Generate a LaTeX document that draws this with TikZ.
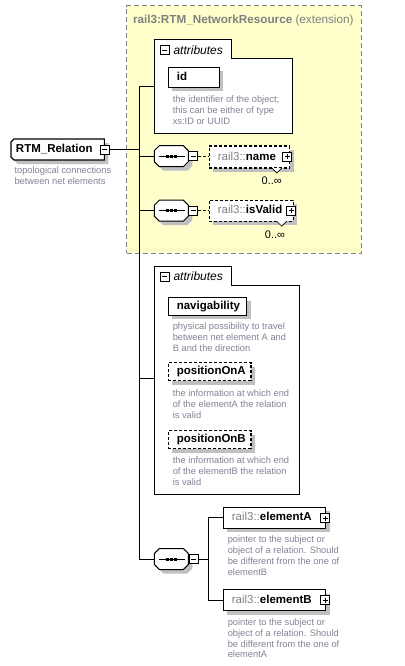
\documentclass[tikz,border=0pt]{standalone}
\usepackage{fontspec}
\setmainfont{Liberation Sans}
\usetikzlibrary{shadows}
\definecolor{ybg}{RGB}{255,255,204}
\definecolor{yborder}{RGB}{128,128,128}
\definecolor{shadowc}{RGB}{192,192,192}
\definecolor{desc}{RGB}{130,130,150}
\definecolor{pref}{RGB}{128,128,128}
\newcommand\octpath[3]{%
 \path[#3] ([xshift=#2]#1.north west) -- ([xshift=-#2]#1.north east) -- ([yshift=-#2]#1.north east) -- ([yshift=#2]#1.south east) -- ([xshift=-#2]#1.south east) -- ([xshift=#2]#1.south west) -- ([yshift=#2]#1.south west) -- ([yshift=-#2]#1.north west) -- cycle;}
\newcommand\seqshape[1]{%
 \octpath{#1}{5pt}{fill=shadowc, transform canvas={shift={(4pt,-4pt)}}}%
 \octpath{#1}{5pt}{draw=black, fill=white}%
 \draw ([xshift=4.5pt]#1.west) -- ([xshift=-3.5pt]#1.east);%
 \foreach \d in {-4,0,4} {\fill ([xshift=\d pt]#1.center) ++(-1.5,-1.5) rectangle ++(3,3);}%
}
\newcommand\relpath[2]{%
 \path[#2] ([xshift=3pt]#1.north west) -- (#1.north east) -- (#1.south east) -- ([xshift=3pt]#1.south west) -- ([yshift=3pt]#1.south west) -- ([yshift=-3pt]#1.north west) -- cycle;}
\begin{document}
\begin{tikzpicture}[x=1pt,y=-1pt, line width=1pt,
  every node/.style={inner sep=0pt, outer sep=0pt},
  shad/.style={drop shadow={shadow xshift=4pt, shadow yshift=-4pt, fill=shadowc, opacity=1}},
  ebox/.style={draw=black, fill=white, line width=1.1pt, shad, inner xsep=8.5pt, align=left, anchor=west,
    text height=8.4pt, text depth=2.3pt, font=\fontsize{11.5}{13}\selectfont\bfseries},
  optbox/.style={ebox, dash pattern=on 3pt off 2pt},
  descr/.style={anchor=north west, align=left, text=desc, font=\fontsize{9.3}{10.8}\selectfont},
  pmbox/.style={draw=black, fill=white, minimum size=9pt, line width=0.8pt},
  minusbox/.style={pmbox, path picture={\draw[line width=0.8pt] ([xshift=2pt]path picture bounding box.west) -- ([xshift=-2pt]path picture bounding box.east);}},
  plusbox/.style={pmbox, path picture={\draw[line width=0.8pt] ([xshift=2pt]path picture bounding box.west) -- ([xshift=-2pt]path picture bounding box.east) ([yshift=-2pt]path picture bounding box.north) -- ([yshift=2pt]path picture bounding box.south);}},
  attrtitle/.style={anchor=west, font=\fontsize{12}{14}\selectfont\itshape},
  mult/.style={font=\fontsize{11}{13}\selectfont},
  seqbox/.style={minimum width=34pt, minimum height=21pt},
  optline/.style={dash pattern=on 3pt off 2pt}
]
\useasboundingbox (0,0) rectangle (404,666);

% extension container
\node[draw=yborder, fill=ybg, dash pattern=on 5pt off 3pt, minimum width=234.3pt, minimum height=247.6pt, anchor=north west] (ext) at (126.7,5.7) {};
\node[anchor=west, text=pref, font=\fontsize{11.7}{13}\selectfont] (exttitle) at (133,20) {\bfseries rail3:RTM\_NetworkResource \mdseries(extension)};

% attributes 1
\draw[fill=white] (154.3,133) -- (154.3,39.3) -- (231,39.3) -- (231,58.3) -- (292.3,58.3) -- (292.3,133) -- cycle;
\node[minusbox] (att1m) at (164.7,50) {};
\node[attrtitle] (att1t) at (173.5,50) {attributes};
\node[ebox, text width=34pt, minimum height=20pt] (id) at (168.3,77.3) {id};
\node[descr] (iddesc) at (172.8,96) {the identifier of the object;\\this can be either of type\\xs:ID or UUID};
\coordinate (att1c) at (154.3,86.7);

% root element
\node[minimum width=93.3pt, minimum height=21pt, anchor=west] (rel) at (11,149.5) {};
\relpath{rel}{fill=shadowc, transform canvas={shift={(4pt,-4pt)}}}
\relpath{rel}{draw=black, fill=white, line width=1.1pt}
\node[anchor=west, font=\fontsize{11.5}{13}\selectfont\bfseries] (reltext) at (16,149.5) {RTM\_Relation};
\node[minusbox] (relm) at (104.6,149.5) {};
\node[descr] (reldesc) at (14.5,166.7) {topological connections\\between net elements};

% trunk
\coordinate (T1) at (139.3,86.7);
\coordinate (T2) at (139.3,559);
\coordinate (att2c) at (154.3,378.3);
\draw (att1c) -- (T1) -- (T2);
\draw (relm.east) -- (relm.east -| T1);

% sequence 1 : name
\node[seqbox] (s1) at (171.3,156.2) {};
\seqshape{s1}
\draw (s1.west) -- (s1.west -| T1);
\node[minusbox] (s1m) at (193,156.2) {};
\node[optbox, text width=63.5pt, minimum height=22pt] (name) at (209.3,157) {\textcolor{pref}{\mdseries rail3::}name};
\draw[optline] (s1m.east) -- (s1m.east -| name.west);
\node[plusbox] (namep) at (287.3,156.5) {};
\draw[fill=white, line width=0.7pt] ([xshift=-18pt]name.south east) -- ([xshift=-13pt, yshift=-5pt]name.south east) -- ([xshift=-8pt]name.south east);
\node[mult] (namem) at (271.7,180.7) {0..∞};

% sequence 2 : isValid
\node[seqbox] (s2) at (171.3,210.7) {};
\seqshape{s2}
\draw (s2.west) -- (s2.west -| T1);
\node[minusbox] (s2m) at (193,210.7) {};
\node[optbox, text width=67pt, minimum height=21pt] (valid) at (209.3,210.7) {\textcolor{pref}{\mdseries rail3::}isValid};
\draw[optline] (s2m.east) -- (valid.west);
\node[plusbox] (validp) at (291,210.7) {};
\draw[fill=white, line width=0.7pt] ([xshift=-16.6pt]valid.south east) -- ([xshift=-11.6pt, yshift=-5pt]valid.south east) -- ([xshift=-6.6pt]valid.south east);
\node[mult] (validm) at (275,235) {0..∞};

% attributes 2
\draw[fill=white] (154.3,494) -- (154.3,266) -- (231.7,266) -- (231.7,285.7) -- (299.3,285.7) -- (299.3,494) -- cycle;
\draw (att2c) -- (att2c -| T1);
\node[minusbox] (att2m) at (164.7,276.7) {};
\node[attrtitle] (att2t) at (173.5,276.7) {attributes};
\node[ebox, text width=61.4pt, minimum height=18pt] (nav) at (168.3,306.3) {navigability};
\node[descr] (navdesc) at (172.8,322.7) {physical possibility to travel\\between net element A and\\B and the direction};
\node[optbox, text width=65.7pt, minimum height=18pt] (posA) at (168.3,371.5) {positionOnA};
\node[descr] (posAdesc) at (172.8,390) {the information at which end\\of the elementA the relation\\is valid};
\node[optbox, text width=65.7pt, minimum height=18pt] (posB) at (168.3,439.5) {positionOnB};
\node[descr] (posBdesc) at (172.8,456.7) {the information at which end\\of the elementB the relation\\is valid};

% sequence 3 : elementA / elementB
\node[seqbox] (s3) at (171.3,559) {};
\seqshape{s3}
\draw (s3.west) -- (T2);
\node[minusbox] (s3m) at (193.5,559) {};
\coordinate (br) at (208.3,559);
\draw (s3m.east) -- (br);
\node[ebox, text width=85.4pt, minimum height=21pt] (elA) at (223.3,517.8) {\textcolor{pref}{\mdseries rail3::}elementA};
\node[plusbox] (elAp) at (325,518.3) {};
\node[descr] (elAdesc) at (227.8,536) {pointer to the subject or\\object of a relation. Should\\be different from the one of\\elementB};
\node[ebox, text width=85.4pt, minimum height=21pt] (elB) at (223.3,600) {\textcolor{pref}{\mdseries rail3::}elementB};
\node[plusbox] (elBp) at (325,600) {};
\node[descr] (elBdesc) at (227.8,618.7) {pointer to the subject or\\object of a relation. Should\\be different from the one of\\elementA};
\draw (elA.west) -- (elA.west -| br) -- (elB.west -| br) -- (elB.west);
\end{tikzpicture}
\end{document}
